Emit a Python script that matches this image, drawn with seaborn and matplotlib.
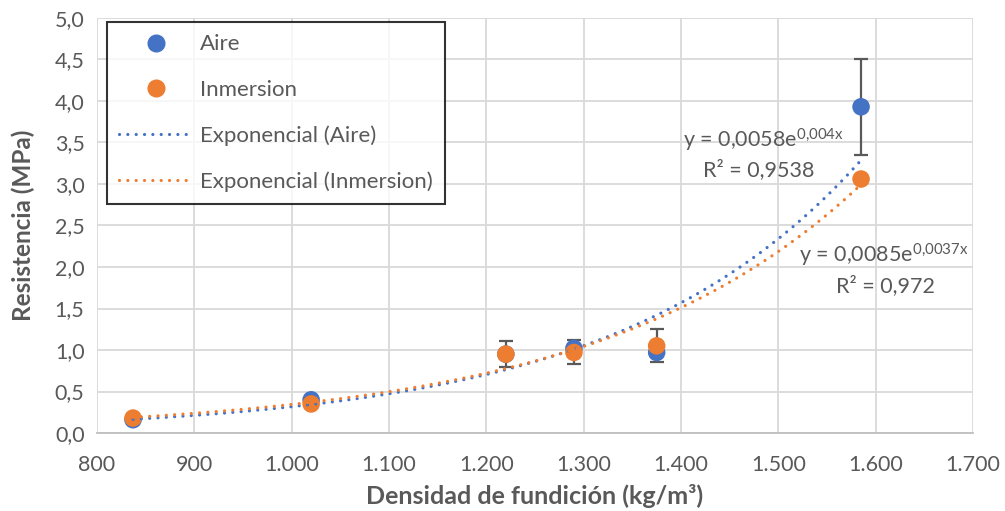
import numpy as np
import pandas as pd
import matplotlib
matplotlib.use("Agg")
import matplotlib.pyplot as plt
from matplotlib.lines import Line2D
from matplotlib.ticker import FuncFormatter
import seaborn as sns

# Densidad de fundición (kg/m3) y resistencia (MPa)
densidad = [837, 1020, 1220, 1290, 1375, 1585]
aire = [0.16, 0.40, 0.95, 1.02, 0.97, 3.93]
inmersion = [0.18, 0.35, 0.95, 0.97, 1.05, 3.06]

# Barras de error (inferior, superior)
err_aire_inf = [0, 0, 0, 0, 0, 0.58]
err_aire_sup = [0, 0, 0, 0, 0, 0.58]
err_inm_inf = [0, 0, 0.16, 0.14, 0.20, 0]
err_inm_sup = [0, 0, 0.16, 0.15, 0.20, 0]

# Ajustes exponenciales y = a·e^(b·x)
fit_aire = (0.0058, 0.004, 0.9538)
fit_inm = (0.0085, 0.0037, 0.972)

x_ticks = [800, 900, 1000, 1100, 1200, 1300, 1400, 1500, 1600, 1700]
y_ticks = [0.0, 0.5, 1.0, 1.5, 2.0, 2.5, 3.0, 3.5, 4.0, 4.5, 5.0]

BLUE = "#4472C4"
ORANGE = "#ED7D31"
TEXT = "#595959"
GRID = "#D9D9D9"
FS = 15.5

sns.set_theme(style="white")
plt.rcParams["font.family"] = ["Lato", "DejaVu Sans"]
plt.rcParams["mathtext.fontset"] = "custom"
plt.rcParams["mathtext.rm"] = "Lato"
plt.rcParams["mathtext.it"] = "Lato"

df = pd.DataFrame({
    "densidad": densidad * 2,
    "resistencia": aire + inmersion,
    "serie": ["Aire"] * len(densidad) + ["Inmersion"] * len(densidad),
})

fig = plt.figure(figsize=(10.05, 5.11), dpi=100)
ax = fig.add_axes([97 / 1005, 1 - 433 / 511, (973 - 97) / 1005, (433 - 18) / 511])

# Barras de error
x_arr = np.array(densidad)
for vals, lo, hi in [(aire, err_aire_inf, err_aire_sup), (inmersion, err_inm_inf, err_inm_sup)]:
    lo = np.array(lo); hi = np.array(hi)
    m = (lo > 0) | (hi > 0)
    ax.errorbar(x_arr[m], np.array(vals)[m], yerr=[lo[m], hi[m]], fmt="none",
                ecolor=TEXT, elinewidth=1.6, capsize=5, capthick=1.6, zorder=3)

sns.scatterplot(data=df, x="densidad", y="resistencia", hue="serie",
                palette={"Aire": BLUE, "Inmersion": ORANGE}, s=160,
                edgecolor="none", linewidth=0, ax=ax, legend=False, zorder=4)

# Líneas de tendencia
xs = np.linspace(min(densidad), max(densidad), 300)
dot = (0, (0.01, 2.6))
for (a, b, _), c in [(fit_aire, BLUE), (fit_inm, ORANGE)]:
    ax.plot(xs, a * np.exp(b * xs), color=c, lw=2.3, linestyle=dot,
            dash_capstyle="round", zorder=5)

ax.set_xlim(800, 1700)
ax.set_ylim(0, 5)
ax.set_xticks(x_ticks)
ax.set_yticks(y_ticks)
ax.xaxis.set_major_formatter(FuncFormatter(lambda v, p: f"{int(v):,}".replace(",", ".")))
ax.yaxis.set_major_formatter(FuncFormatter(lambda v, p: f"{v:.1f}".replace(".", ",")))
ax.grid(True, color=GRID, lw=1.3)
ax.set_axisbelow(True)
for s in ["top", "right", "left"]:
    ax.spines[s].set_visible(False)
ax.spines["bottom"].set_color("#BFBFBF")
ax.spines["bottom"].set_linewidth(1.3)
ax.tick_params(axis="y", length=0, labelsize=FS, colors=TEXT, pad=9)
ax.tick_params(axis="x", length=0, labelsize=FS, colors=TEXT, pad=16)

ax.set_xlabel("Densidad de fundición (kg/m³)", fontsize=18, fontweight="bold",
              color=TEXT, labelpad=6)
ax.set_ylabel("Resistencia (MPa)", fontsize=17.5, fontweight="bold", color=TEXT, labelpad=14)

def fmt(v):
    return f"{v}".replace(".", "{,}")

def eq(a, b):
    return f"y = {fmt(a)}e" + r"$^{\mathrm{" + fmt(b) + "x}}$"

a, b, r2 = fit_aire
ax.text(1485, 3.53, eq(a, b).replace("{,}", ",", 1), fontsize=FS, color=TEXT,
        ha="center", va="center")
ax.text(1480, 3.17, f"R² = {r2}".replace(".", ","), fontsize=FS, color=TEXT,
        ha="center", va="center")
a, b, r2 = fit_inm
ax.text(1608, 2.14, eq(a, b).replace("{,}", ",", 1), fontsize=FS, color=TEXT,
        ha="center", va="center")
ax.text(1610, 1.78, f"R² = {r2}".replace(".", ","), fontsize=FS, color=TEXT,
        ha="center", va="center")

handles = [
    Line2D([], [], marker="o", ls="none", color=BLUE, markersize=12),
    Line2D([], [], marker="o", ls="none", color=ORANGE, markersize=12),
    Line2D([], [], color=BLUE, lw=2.3, ls=dot, dash_capstyle="round"),
    Line2D([], [], color=ORANGE, lw=2.3, ls=dot, dash_capstyle="round"),
]
labels = ["Aire", "Inmersion", "Exponencial (Aire)", "Exponencial (Inmersion)"]
leg = ax.legend(handles, labels, loc="upper left", bbox_to_anchor=(0.0114, 0.99),
                frameon=True, fancybox=False, edgecolor="black", fontsize=16,
                labelspacing=1.15, handlelength=3.3, handletextpad=0.35,
                borderpad=0.55, borderaxespad=0)
leg.get_frame().set_linewidth(1.5)
for t in leg.get_texts():
    t.set_color(TEXT)

fig.savefig("out.png", dpi=100, facecolor="white")
